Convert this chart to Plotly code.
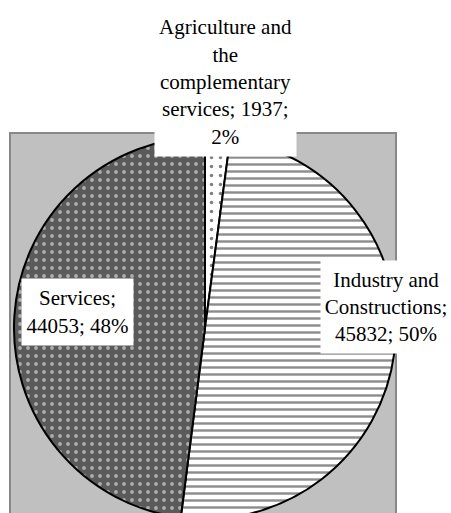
import textwrap
import plotly.graph_objects as go

categories = ["Agriculture and the complementary services", "Industry and Constructions", "Services"]
values = [1937, 45832, 44053]

W, H = 451, 525
total = sum(values)
pcts = [round(v / total * 100) for v in values]

# label box placement (pixels): center x, top y, width, height, wrap width
boxes = [
    (225, 7, 141, 148, 15),
    (386, 260, 130, 92, 14),
    (77, 278, 111, 66, 10),
]

fig = go.Figure()
fig.add_trace(go.Pie(
    labels=categories,
    values=values,
    sort=False,
    direction="clockwise",
    rotation=0,
    textinfo="none",
    hoverinfo="label+value+percent",
    showlegend=False,
    domain=dict(x=[14 / W, 396 / W], y=[(H - 519) / H, (H - 137) / H]),
    marker=dict(
        colors=["white", "white", "#5a5a5a"],
        line=dict(color="black", width=2),
        pattern=dict(
            shape=[".", "-", "."],
            fgcolor=["black", "#1a1a1a", "white"],
            bgcolor=["white", "white", "#5a5a5a"],
            size=[9, 7, 8],
            solidity=[0.12, 0.35, 0.18],
            fillmode="overlay",
        ),
    ),
))

fig.add_shape(type="rect", xref="paper", yref="paper",
              x0=10 / W, x1=396 / W, y0=-0.05, y1=1 - 133 / H,
              fillcolor="#c0c0c0", line=dict(color="#888888", width=2), layer="below")

for cat, v, p, (cx, top, bw, bh, ww) in zip(categories, values, pcts, boxes):
    txt = f"{cat}; {v}; {p}%"
    lines = textwrap.wrap(txt, width=ww)
    fig.add_annotation(
        x=cx / W, y=1 - top / H, xref="paper", yref="paper",
        xanchor="center", yanchor="top",
        text="<br>".join(lines), showarrow=False,
        width=bw, height=bh, valign="middle", align="center",
        bgcolor="white", borderpad=0,
        font=dict(family="Times New Roman", size=21, color="black"),
    )

fig.update_layout(width=W, height=H, margin=dict(l=0, r=0, t=0, b=0),
                  paper_bgcolor="white", plot_bgcolor="white")
fig.write_html("out.html", config={"displayModeBar": False},
               post_script="document.body.style.margin='0';document.body.style.overflow='hidden';document.documentElement.style.overflow='hidden';")
